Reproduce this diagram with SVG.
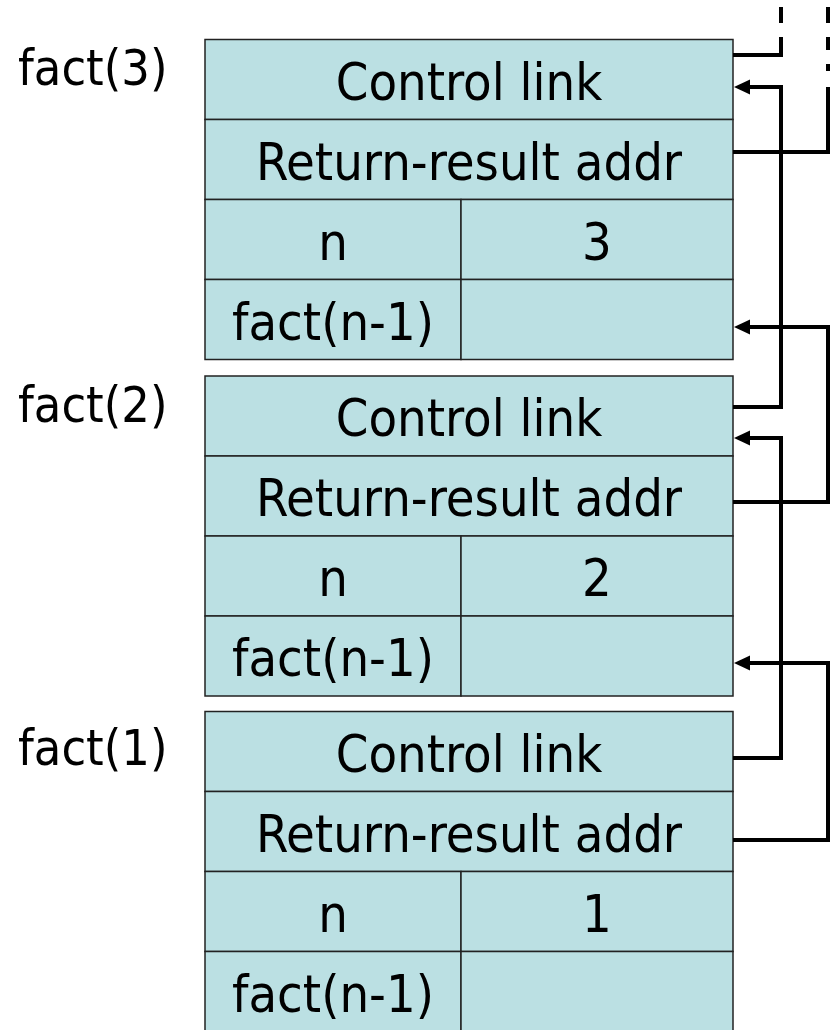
<svg xmlns="http://www.w3.org/2000/svg" width="834" height="1030" viewBox="0 0 834 1030">
<style>
.cell{fill:#BBE0E3;stroke:#222;stroke-width:1.5}
.t{font-family:"DejaVu Sans Condensed","DejaVu Sans",sans-serif;font-stretch:condensed;font-size:52px;fill:#000;text-anchor:middle}
.lbl{font-family:"DejaVu Sans Condensed","DejaVu Sans",sans-serif;font-stretch:condensed;font-size:50px;fill:#000}
.c{fill:none;stroke:#000;stroke-width:4;stroke-linejoin:miter}
</style>
<defs>
<marker id="ah" viewBox="0 0 16 16" refX="6" refY="8" markerWidth="16" markerHeight="16" markerUnits="userSpaceOnUse" orient="auto">
<path d="M0,0.5 L16,8 L0,15.5 Z" fill="#000"/>
</marker>
</defs>
<g id="frame-fact3">
<text class="lbl" x="18" y="85">fact(3)</text>
<rect class="cell" x="205" y="39.5" width="528" height="80"/>
<rect class="cell" x="205" y="119.5" width="528" height="80"/>
<rect class="cell" x="205" y="199.5" width="256" height="80"/>
<rect class="cell" x="461" y="199.5" width="272" height="80"/>
<rect class="cell" x="205" y="279.5" width="256" height="80"/>
<rect class="cell" x="461" y="279.5" width="272" height="80"/>
<text class="t" x="469" y="100">Control link</text>
<text class="t" x="469" y="180">Return-result addr</text>
<text class="t" x="333" y="260">n</text>
<text class="t" x="597" y="260">3</text>
<text class="t" x="333" y="340">fact(n-1)</text>
</g>
<g id="frame-fact2">
<text class="lbl" x="18" y="422">fact(2)</text>
<rect class="cell" x="205" y="376" width="528" height="80"/>
<rect class="cell" x="205" y="456" width="528" height="80"/>
<rect class="cell" x="205" y="536" width="256" height="80"/>
<rect class="cell" x="461" y="536" width="272" height="80"/>
<rect class="cell" x="205" y="616" width="256" height="80"/>
<rect class="cell" x="461" y="616" width="272" height="80"/>
<text class="t" x="469" y="436">Control link</text>
<text class="t" x="469" y="516">Return-result addr</text>
<text class="t" x="333" y="596">n</text>
<text class="t" x="597" y="596">2</text>
<text class="t" x="333" y="676">fact(n-1)</text>
</g>
<g id="frame-fact1">
<text class="lbl" x="18" y="765">fact(1)</text>
<rect class="cell" x="205" y="711.5" width="528" height="80"/>
<rect class="cell" x="205" y="791.5" width="528" height="80"/>
<rect class="cell" x="205" y="871.5" width="256" height="80"/>
<rect class="cell" x="461" y="871.5" width="272" height="80"/>
<rect class="cell" x="205" y="951.5" width="256" height="80"/>
<rect class="cell" x="461" y="951.5" width="272" height="80"/>
<text class="t" x="469" y="772">Control link</text>
<text class="t" x="469" y="852">Return-result addr</text>
<text class="t" x="333" y="932">n</text>
<text class="t" x="597" y="932">1</text>
<text class="t" x="333" y="1012">fact(n-1)</text>
</g>
<g id="connectors">
<polyline class="c" points="733,55 781,55 781,37"/>
<line class="c" x1="781" y1="23" x2="781" y2="7"/>
<polyline class="c" points="733,152 828,152 828,87"/>
<line class="c" x1="828" y1="71" x2="828" y2="64"/>
<line class="c" x1="828" y1="50" x2="828" y2="37"/>
<line class="c" x1="828" y1="23" x2="828" y2="7"/>
<polyline class="c" points="733,407 781,407 781,87 744,87" marker-end="url(#ah)"/>
<polyline class="c" points="733,502 828,502 828,327 744,327" marker-end="url(#ah)"/>
<polyline class="c" points="733,758 781,758 781,438 744,438" marker-end="url(#ah)"/>
<polyline class="c" points="733,840 828,840 828,663 744,663" marker-end="url(#ah)"/>
</g>
</svg>
